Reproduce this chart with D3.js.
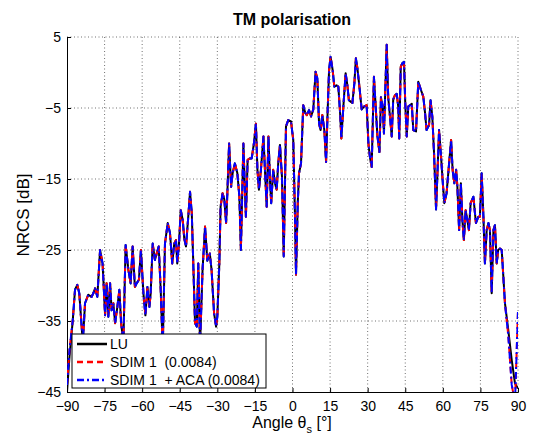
<!DOCTYPE html>
<html><head><meta charset="utf-8">
<script src="https://cdn.jsdelivr.net/npm/d3@7"></script>
<style>
html,body{margin:0;padding:0;background:#fff;}
svg{display:block;font-family:Arial,"Liberation Sans",Helvetica,sans-serif;}
</style></head>
<body><svg id="c" width="534" height="439"></svg>
<script>
const title = "TM polarisation";
const xTicks = [-90,-75,-60,-45,-30,-15,0,15,30,45,60,75,90];
const yTicks = [5,-5,-15,-25,-35,-45];
const seriesNames = ["LU","SDIM 1  (0.0084)","SDIM 1  + ACA (0.0084)"];

const angles = [-90,-89,-87.7,-86.8,-85.9,-85.1,-83.7,-82.8,-81.5,-80.2,-79.5,-78.8,-77.9,-76.8,-75.8,-74.8,-74.2,-73.5,-72.8,-72.2,-71.5,-70.8,-69.9,-69.1,-68.4,-67.5,-66.6,-65.5,-64.6,-63.8,-62.9,-62.2,-61.3,-60.5,-59.5,-58.7,-57.9,-57.1,-56.6,-55.8,-54.9,-54.2,-53.4,-52.6,-51.8,-50.9,-49.8,-48.9,-48,-47.2,-46.5,-46,-45.3,-44.6,-43.8,-43.2,-42.5,-41.6,-40.9,-40.2,-39.6,-38.9,-38.2,-37.6,-36.9,-35.9,-34.9,-34,-33,-32.3,-31.3,-30.5,-30,-29.2,-28.7,-27.9,-27.2,-26.5,-26,-25.3,-24.5,-23.9,-23,-22,-21.2,-20.6,-19.6,-19,-18.6,-17.9,-17,-16.3,-15.4,-14.6,-14,-13.4,-12.6,-11.6,-11,-10.3,-9.6,-9,-8.5,-7.7,-7,-6.3,-5.7,-5,-4.2,-3.5,-2.6,-1.7,-0.6,0.3,1,1.4,2.1,2.6,3.4,4.3,5.1,5.7,6.6,7.4,8.3,9.2,9.9,10.6,11.2,11.9,12.7,13.4,14,14.6,15.2,16,16.7,17.6,18.3,19,19.5,20.3,21.2,21.9,22.5,23.2,23.9,24.7,25.3,25.9,26.7,27.6,28.5,29.6,30.3,30.9,31.6,32.5,33.2,33.9,34.7,35.3,36,36.5,37.6,38.2,38.9,39.6,40.2,40.9,41.6,42.2,42.6,43.2,43.8,44.5,45,45.6,46.2,46.9,47.6,48.2,49.3,50.2,51.2,52.2,52.9,53.5,54.5,55.1,55.8,56.5,57.3,57.9,58.5,59.3,59.9,60.6,61.5,62.5,63.3,63.9,64.6,65.3,65.8,66.5,67.2,67.8,68.4,69.1,69.8,70.4,71.1,72.2,73.2,74.2,74.8,75.5,76.2,76.8,77.5,78.2,78.8,79.5,80.2,80.8,81.5,82.1,82.8,83.5,84.8,86.1,87.5,88.8,90];

const lu = [-45,-40,-34.9,-30.6,-29.9,-31.1,-38,-32.5,-31.3,-31.6,-31.1,-30.4,-31.6,-25,-26.9,-34.2,-29.7,-34.4,-29.7,-33.5,-32.5,-35.3,-33,-30.6,-35.3,-38,-24.3,-27.8,-29.7,-24.5,-30.2,-29.7,-29.2,-25,-31.1,-34.2,-30.2,-33,-31.1,-24.1,-26.4,-25.5,-24.5,-30.6,-39,-24.1,-21.2,-22.6,-26.9,-24.1,-23.6,-26.9,-24.1,-19.4,-20.8,-23.4,-24.5,-20.3,-16.8,-19.8,-26.9,-35.3,-35.8,-26.9,-38.5,-27.8,-21.7,-26.5,-25.5,-27.8,-33.9,-35.8,-34.4,-26.9,-18.9,-17,-17.9,-21.2,-17,-10,-16.1,-14.2,-12.8,-14.2,-17.5,-25,-10,-16.5,-20.3,-12.3,-12.1,-12.1,-10,-7.2,-13.7,-16.5,-13.7,-9,-13.7,-18.9,-9,-15.1,-18.4,-13.7,-15.6,-16.5,-12.8,-10.2,-14.7,-25.9,-7.6,-6.7,-6.9,-9.5,-20.3,-28.5,-18.4,-14.2,-12.8,-4.6,-5.7,-6,-5.3,-6.2,-5.2,0.1,-0.8,-7.2,-8.1,-6,-8.1,-12.6,-5.7,0.4,2.2,0.4,-2,-1.8,-2,-5.7,-9.3,-4.8,-0.1,-1.8,-3.9,-4.1,-4.3,-1.5,2,0.6,-2,-5.2,-4.8,-4.6,-10,-11.9,-13.3,-0.6,-4.8,-9,-11.2,-3.5,-4.8,-8.6,3.9,-3.5,-6.2,-9,-3.8,-3.2,-3,-4.8,-9.3,0.8,1.3,1.5,-4.3,-9,-4.8,-4.6,-4.4,-8.1,-8.3,-1.3,-2.4,-3.4,-5.7,-8.1,-7.4,-3.9,-6.2,-11.4,-19.3,-13.7,-8.1,-11.9,-15.1,-18.4,-17,-12.8,-9.5,-13.7,-15.6,-13.7,-16,-22.2,-15.6,-20.8,-23.6,-19.4,-20.8,-22.2,-18.4,-17.5,-21.2,-20.3,-20.3,-14.2,-20.3,-26.9,-22.2,-21.2,-22.2,-31.1,-22.2,-21.5,-26.9,-25,-24.8,-25,-32.5,-36.2,-40.5,-43.8,-44.5];

const sdim = [-44,-39,-34.9,-30.6,-29.9,-31.1,-38,-32.5,-31.3,-31.6,-31.1,-30.4,-31.6,-25,-26.9,-34.2,-29.7,-34.4,-29.7,-33.5,-32.5,-35.3,-33,-30.6,-35.3,-38,-24.3,-27.8,-29.7,-24.5,-30.2,-29.7,-29.2,-25,-31.1,-34.2,-30.2,-33,-31.1,-24.1,-26.4,-25.5,-24.5,-30.6,-39,-24.1,-21.2,-22.6,-26.9,-24.1,-23.6,-26.9,-24.1,-19.4,-20.8,-23.4,-24.5,-20.3,-16.8,-19.8,-26.9,-35.3,-35.8,-26.9,-38.5,-27.8,-21.7,-26.5,-25.5,-27.8,-33.9,-35.8,-34.4,-26.9,-18.9,-17,-17.9,-21.2,-17,-10,-16.1,-14.2,-12.8,-14.2,-17.5,-25,-10,-16.5,-20.3,-12.3,-12.1,-12.1,-10,-7.2,-13.7,-16.5,-13.7,-9,-13.7,-18.9,-9,-15.1,-18.4,-13.7,-15.6,-16.5,-12.8,-10.2,-14.7,-25.9,-7.6,-6.7,-6.9,-9.5,-20.3,-28.5,-18.4,-14.2,-12.8,-4.6,-5.7,-6,-5.3,-6.2,-5.2,0.1,-0.8,-7.2,-8.1,-6,-8.1,-12.6,-5.7,0.4,2.2,0.4,-2,-1.8,-2,-5.7,-9.3,-4.8,-0.1,-1.8,-3.9,-4.1,-4.3,-1.5,2,0.6,-2,-5.2,-4.8,-4.6,-10,-11.9,-13.3,-0.6,-4.8,-9,-11.2,-3.5,-4.8,-8.6,3.9,-3.5,-6.2,-9,-3.8,-3.2,-3,-4.8,-9.3,0.8,1.3,1.5,-4.3,-9,-4.8,-4.6,-4.4,-8.1,-8.3,-1.3,-2.4,-3.4,-5.7,-8.1,-7.4,-3.9,-6.2,-11.4,-19.3,-13.7,-8.1,-11.9,-15.1,-18.4,-17,-12.8,-9.5,-13.7,-15.6,-13.7,-16,-22.2,-15.6,-20.8,-23.6,-19.4,-20.8,-22.2,-18.4,-17.5,-21.2,-20.3,-20.3,-14.2,-20.3,-26.9,-22.2,-21.2,-22.2,-31.1,-22.2,-21.5,-26.9,-25,-24.8,-25,-32.5,-37,-44,-46.5,-33.5];

const sdimAca = [-44,-39,-34.9,-30.6,-29.9,-31.1,-38,-32.5,-31.3,-31.6,-31.1,-30.4,-31.6,-25,-26.9,-34.2,-29.7,-34.4,-29.7,-33.5,-32.5,-35.3,-33,-30.6,-35.3,-38,-24.3,-27.8,-29.7,-24.5,-30.2,-29.7,-29.2,-25,-31.1,-34.2,-30.2,-33,-31.1,-24.1,-26.4,-25.5,-24.5,-30.6,-39,-24.1,-21.2,-22.6,-26.9,-24.1,-23.6,-26.9,-24.1,-19.4,-20.8,-23.4,-24.5,-20.3,-16.8,-19.8,-26.9,-35.3,-35.8,-26.9,-38.5,-27.8,-21.7,-26.5,-25.5,-27.8,-33.9,-35.8,-34.4,-26.9,-18.9,-17,-17.9,-21.2,-17,-10,-16.1,-14.2,-12.8,-14.2,-17.5,-25,-10,-16.5,-20.3,-12.3,-12.1,-12.1,-10,-7.2,-13.7,-16.5,-13.7,-9,-13.7,-18.9,-9,-15.1,-18.4,-13.7,-15.6,-16.5,-12.8,-10.2,-14.7,-25.9,-7.6,-6.7,-6.9,-9.5,-20.3,-28.5,-18.4,-14.2,-12.8,-4.6,-5.7,-6,-5.3,-6.2,-5.2,0.1,-0.8,-7.2,-8.1,-6,-8.1,-12.6,-5.7,0.4,2.2,0.4,-2,-1.8,-2,-5.7,-9.3,-4.8,-0.1,-1.8,-3.9,-4.1,-4.3,-1.5,2,0.6,-2,-5.2,-4.8,-4.6,-10,-11.9,-13.3,-0.6,-4.8,-9,-11.2,-3.5,-4.8,-8.6,3.9,-3.5,-6.2,-9,-3.8,-3.2,-3,-4.8,-9.3,0.8,1.3,1.5,-4.3,-9,-4.8,-4.6,-4.4,-8.1,-8.3,-1.3,-2.4,-3.4,-5.7,-8.1,-7.4,-3.9,-6.2,-11.4,-19.3,-13.7,-8.1,-11.9,-15.1,-18.4,-17,-12.8,-9.5,-13.7,-15.6,-13.7,-16,-22.2,-15.6,-20.8,-23.6,-19.4,-20.8,-22.2,-18.4,-17.5,-21.2,-20.3,-20.3,-14.2,-20.3,-26.9,-22.2,-21.2,-22.2,-31.1,-22.2,-21.5,-26.9,-25,-24.8,-25,-32.5,-37,-44,-46.5,-33.5];

const M = {left:67, right:518, top:37, bottom:392};
const svg = d3.select("#c");
const x = d3.scaleLinear().domain([-90,90]).range([M.left, M.right]);
const y = d3.scaleLinear().domain([-45,5]).range([M.bottom, M.top]);

// grid
const grid = svg.append("g");
grid.selectAll("line.gx").data(xTicks.filter(t=>t>-90)).enter().append("line")
  .attr("x1",d=>x(d)).attr("x2",d=>x(d)).attr("y1",M.top).attr("y2",M.bottom)
  .attr("stroke","#333").attr("stroke-width",0.7).attr("stroke-dasharray","1,2.5");
grid.selectAll("line.gy").data(yTicks.filter(t=>t>-45)).enter().append("line")
  .attr("x1",M.left).attr("x2",M.right).attr("y1",d=>y(d)).attr("y2",d=>y(d))
  .attr("stroke","#333").attr("stroke-width",0.7).attr("stroke-dasharray","1,2.5");

// axes
const fmt = d => (d<0 ? "\u2212"+Math.abs(d) : String(d));
const xAxis = svg.append("g").attr("transform",`translate(0,${M.bottom})`)
  .call(d3.axisBottom(x).tickValues(xTicks).tickSize(-4).tickPadding(9).tickFormat(fmt));
const yAxis = svg.append("g").attr("transform",`translate(${M.left},0)`)
  .call(d3.axisLeft(y).tickValues(yTicks).tickSize(-4).tickPadding(6).tickFormat(fmt));
[xAxis,yAxis].forEach(a=>{
  a.selectAll("text").attr("font-size",14).attr("fill","#000").attr("font-family","Arial, 'Liberation Sans', sans-serif");
  a.select(".domain").attr("stroke","#000").attr("stroke-width",1);
  a.selectAll(".tick line").attr("stroke","#000");
});

// clip
svg.append("clipPath").attr("id","clip").append("rect")
  .attr("x",M.left).attr("y",M.top).attr("width",M.right-M.left).attr("height",M.bottom-M.top);

const line = d3.line().x(d=>x(d[0])).y(d=>y(d[1]));
const styles = [
  {vals:lu, color:"#000", dash:null},
  {vals:sdim, color:"#ff0000", dash:"6,4"},
  {vals:sdimAca, color:"#0000ff", dash:"7,3,2,3"}
];
const plot = svg.append("g").attr("clip-path","url(#clip)");
styles.forEach(s=>{
  plot.append("path").datum(angles.map((a,i)=>[a,s.vals[i]]))
    .attr("d",line).attr("fill","none").attr("stroke",s.color)
    .attr("stroke-width",2).attr("stroke-linejoin","round")
    .attr("stroke-dasharray",s.dash);
});

// legend
const lg = svg.append("g");
lg.append("rect").attr("x",72).attr("y",334).attr("width",194).attr("height",54)
  .attr("fill","#fff").attr("stroke","#000").attr("stroke-width",1);
styles.forEach((s,i)=>{
  const yy = 344 + i*18;
  lg.append("line").attr("x1",77).attr("x2",107).attr("y1",yy).attr("y2",yy)
    .attr("stroke",s.color).attr("stroke-width",2.5).attr("stroke-dasharray",s.dash);
  lg.append("text").attr("x",110).attr("y",yy+5).attr("font-size",14)
    .attr("xml:space","preserve").style("white-space","pre").text(seriesNames[i]);
});

// title & labels
svg.append("text").attr("x",292).attr("y",25).attr("text-anchor","middle")
  .attr("font-size",16).attr("font-weight","bold").text(title);
const xl = svg.append("text").attr("x",292).attr("y",428).attr("text-anchor","middle").attr("font-size",16);
xl.append("tspan").text("Angle \u03b8");
xl.append("tspan").attr("font-size",11).attr("dy",5).text("s");
xl.append("tspan").attr("dy",-5).text(" [\u00b0]");
svg.append("text").attr("transform","translate(29,215) rotate(-90)")
  .attr("text-anchor","middle").attr("font-size",17).text("NRCS [dB]");
</script></body></html>
